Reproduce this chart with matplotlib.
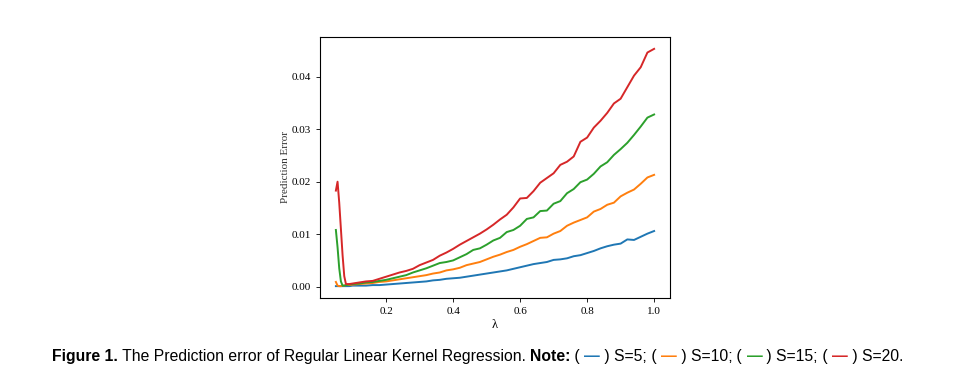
import matplotlib
matplotlib.use('Agg')
import matplotlib.pyplot as plt

# lambda grid (x axis)
lam = [0.05, 0.055, 0.06, 0.065, 0.07, 0.075, 0.08, 0.09, 0.10,
       0.12, 0.14, 0.16, 0.18, 0.20, 0.22, 0.24, 0.26, 0.28, 0.30,
       0.32, 0.34, 0.36, 0.38, 0.40, 0.42, 0.44, 0.46, 0.48, 0.50,
       0.52, 0.54, 0.56, 0.58, 0.60, 0.62, 0.64, 0.66, 0.68, 0.70,
       0.72, 0.74, 0.76, 0.78, 0.80, 0.82, 0.84, 0.86, 0.88, 0.90,
       0.92, 0.94, 0.96, 0.98, 1.00]

err_s5 = [0.0001, 0.0001, 0.0001, 0.0001, 0.0001, 0.0001, 0.0001, 0.0001, 0.0002,
          0.0002, 0.0002, 0.0003, 0.0003, 0.0004, 0.0005, 0.0006, 0.0007, 0.0008, 0.0009,
          0.0010, 0.0012, 0.0013, 0.0015, 0.0016, 0.0017, 0.0019, 0.0021, 0.0023, 0.0025,
          0.0027, 0.0029, 0.0031, 0.0034, 0.0037, 0.0040, 0.0043, 0.0045, 0.0047, 0.0051,
          0.0052, 0.0054, 0.0058, 0.0060, 0.0064, 0.0068, 0.0073, 0.0077, 0.0080, 0.0082,
          0.0090, 0.0089, 0.0095, 0.0101, 0.0106]

err_s10 = [0.0009, 0.0002, 0.0001, 0.0001, 0.0002, 0.0002, 0.0003, 0.0003, 0.0004,
           0.0005, 0.0006, 0.0007, 0.0009, 0.0010, 0.0012, 0.0014, 0.0016, 0.0018, 0.0020,
           0.0022, 0.0025, 0.0027, 0.0031, 0.0033, 0.0036, 0.0041, 0.0044, 0.0047, 0.0052,
           0.0057, 0.0061, 0.0066, 0.0070, 0.0076, 0.0081, 0.0087, 0.0093, 0.0094, 0.0101,
           0.0106, 0.0116, 0.0122, 0.0127, 0.0132, 0.0143, 0.0148, 0.0156, 0.0160, 0.0172,
           0.0179, 0.0185, 0.0196, 0.0208, 0.0213]

err_s15 = [0.0108, 0.0075, 0.0035, 0.0010, 0.0002, 0.0002, 0.0003, 0.0004, 0.0005,
           0.0006, 0.0008, 0.0009, 0.0011, 0.0013, 0.0016, 0.0019, 0.0022, 0.0027, 0.0031,
           0.0035, 0.0040, 0.0045, 0.0047, 0.0050, 0.0056, 0.0062, 0.0070, 0.0073, 0.0080,
           0.0088, 0.0093, 0.0104, 0.0108, 0.0116, 0.0129, 0.0132, 0.0144, 0.0145, 0.0158,
           0.0163, 0.0178, 0.0186, 0.0199, 0.0204, 0.0215, 0.0229, 0.0237, 0.0251, 0.0262,
           0.0274, 0.0289, 0.0305, 0.0322, 0.0328]

err_s20 = [0.0183, 0.0200, 0.0160, 0.0110, 0.0060, 0.0020, 0.0005, 0.0005, 0.0006,
           0.0008, 0.0010, 0.0011, 0.0015, 0.0019, 0.0023, 0.0027, 0.0030, 0.0034, 0.0041,
           0.0046, 0.0051, 0.0059, 0.0065, 0.0072, 0.0080, 0.0087, 0.0094, 0.0101, 0.0109,
           0.0118, 0.0128, 0.0137, 0.0151, 0.0168, 0.0169, 0.0182, 0.0198, 0.0207, 0.0216,
           0.0232, 0.0238, 0.0248, 0.0276, 0.0284, 0.0303, 0.0316, 0.0331, 0.0349, 0.0358,
           0.0380, 0.0402, 0.0418, 0.0446, 0.0453]

series = [(err_s5, '#1f77b4'), (err_s10, '#ff7f0e'), (err_s15, '#2ca02c'), (err_s20, '#d62728')]
caption_labels = ['S=5', 'S=10', 'S=15', 'S=20']

fig = plt.figure(figsize=(9.77, 3.79), dpi=100, facecolor='white')
ax = fig.add_axes([0.3275, 0.2137, 0.3583, 0.6887])

for vals, col in series:
    ax.plot(lam, vals, color=col, linewidth=1.4)

serif = ['Liberation Serif', 'DejaVu Serif']
ax.set_xticks([0.2, 0.4, 0.6, 0.8, 1.0])
ax.set_yticks([0.0, 0.01, 0.02, 0.03, 0.04])
ax.set_xticklabels(['0.2', '0.4', '0.6', '0.8', '1.0'], family=serif, fontsize=8)
ax.set_yticklabels(['0.00', '0.01', '0.02', '0.03', '0.04'], family=serif, fontsize=8)
ax.tick_params(direction='out', length=3, width=0.6)
ax.set_xlabel('λ', family=serif, fontsize=9, labelpad=2)
ax.set_ylabel('Prediction Error', family=serif, fontsize=8, labelpad=1, color='#333333')
for s in ax.spines.values():
    s.set_linewidth(0.8)

# caption: chained text pieces, each placed after the previous one
sans = ['Liberation Sans', 'DejaVu Sans']
fs = 11.3
pieces = [('Figure 1.', 'black', 'bold'),
          (' The Prediction error of Regular Linear Kernel Regression. ', 'black', 'normal'),
          ('Note:', 'black', 'bold')]
for i, (vals, col) in enumerate(series):
    pieces.append((' ( ', 'black', 'normal'))
    pieces.append(('—', col, 'bold'))
    end = ';' if i < len(series) - 1 else '.'
    pieces.append((' ) ' + caption_labels[i] + end, 'black', 'normal'))

prev = fig.text(0.053, 0.040, pieces[0][0], color=pieces[0][1], fontweight=pieces[0][2],
                family=sans, fontsize=fs, va='bottom', ha='left')
for txt, col, wt in pieces[1:]:
    prev = ax.annotate(txt, xy=(1, 0), xycoords=prev, color=col, fontweight=wt,
                       family=sans, fontsize=fs, va='bottom', ha='left',
                       annotation_clip=False)

fig.savefig('out.png', dpi=100, facecolor='white')
